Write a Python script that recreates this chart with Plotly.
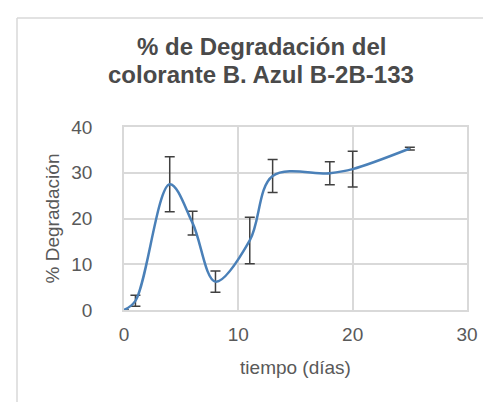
import plotly.graph_objects as go

# Data
tiempo = [0, 1, 4, 6, 8, 11, 13, 18, 20, 25]
degradacion = [0, 2.0, 27.5, 19.0, 6.2, 15.2, 29.3, 29.9, 30.8, 35.3]
error = [0, 1.2, 6.0, 2.6, 2.3, 5.1, 3.6, 2.5, 3.9, 0.3]

x_ticks = [0, 10, 20, 30]
y_ticks = [0, 10, 20, 30, 40]

title_lines = ["% de Degradación del", "colorante B. Azul B-2B-133"]

W, H = 491, 402
ML, MR, MT, MB = 116, 32, 119, 100
PW = W - ML - MR
PH = H - MT - MB

def px_to_paper_x(px):
    return (px - ML) / PW

def px_to_paper_y(py):
    return (H - MB - py) / PH

FONT = "Liberation Sans, Arial, sans-serif"
TXT = "#595959"
GRID = "#d9d9d9"

fig = go.Figure()
fig.add_trace(go.Scatter(
    x=tiempo, y=degradacion,
    mode="lines",
    line=dict(color="#4a80b8", width=2.5, shape="spline", smoothing=1.0),
    error_y=dict(type="data", array=error, visible=True,
                 color="#404040", thickness=1.5, width=5),
    showlegend=False,
))

title_y_px = [39, 67]
annotations = [
    dict(text=f"<b>{t}</b>", xref="paper", yref="paper",
         x=px_to_paper_x(253), y=px_to_paper_y(yp),
         xanchor="center", yanchor="middle", showarrow=False,
         font=dict(family=FONT, size=24, color="#4a4a4a"))
    for t, yp in zip(title_lines, title_y_px)
]

fig.update_layout(
    width=W, height=H,
    margin=dict(l=ML, r=MR, t=MT, b=MB, autoexpand=False),
    paper_bgcolor="white", plot_bgcolor="white",
    font=dict(family=FONT, color=TXT, size=19),
    annotations=annotations,
    xaxis=dict(
        range=[0, 30], tickvals=x_ticks, ticktext=[str(v) for v in x_ticks],
        showgrid=True, gridcolor=GRID, gridwidth=1.5,
        showline=True, linecolor=GRID, linewidth=1.5, mirror=True,
        zeroline=False, ticks="", ticklabelstandoff=6,
        title=dict(text="tiempo (días)", standoff=17, font=dict(size=19, color=TXT)),
        automargin=False,
    ),
    yaxis=dict(
        range=[0, 40], tickvals=y_ticks, ticktext=[str(v) for v in y_ticks],
        showgrid=True, gridcolor=GRID, gridwidth=1.5,
        showline=True, linecolor=GRID, linewidth=1.5, mirror=True,
        zeroline=False, ticks="", ticklabelstandoff=26,
        title=dict(text="% Degradación", standoff=7, font=dict(size=19, color=TXT)),
        automargin=False,
    ),
    shapes=[
        dict(type="line", xref="paper", yref="paper",
             x0=px_to_paper_x(9), x1=px_to_paper_x(W + 5),
             y0=px_to_paper_y(10), y1=px_to_paper_y(10),
             line=dict(color=GRID, width=1.5), layer="below"),
        dict(type="line", xref="paper", yref="paper",
             x0=px_to_paper_x(9), x1=px_to_paper_x(9),
             y0=px_to_paper_y(10), y1=px_to_paper_y(H + 5),
             line=dict(color=GRID, width=1.5), layer="below"),
    ],
)

fig.write_html("out.html")
